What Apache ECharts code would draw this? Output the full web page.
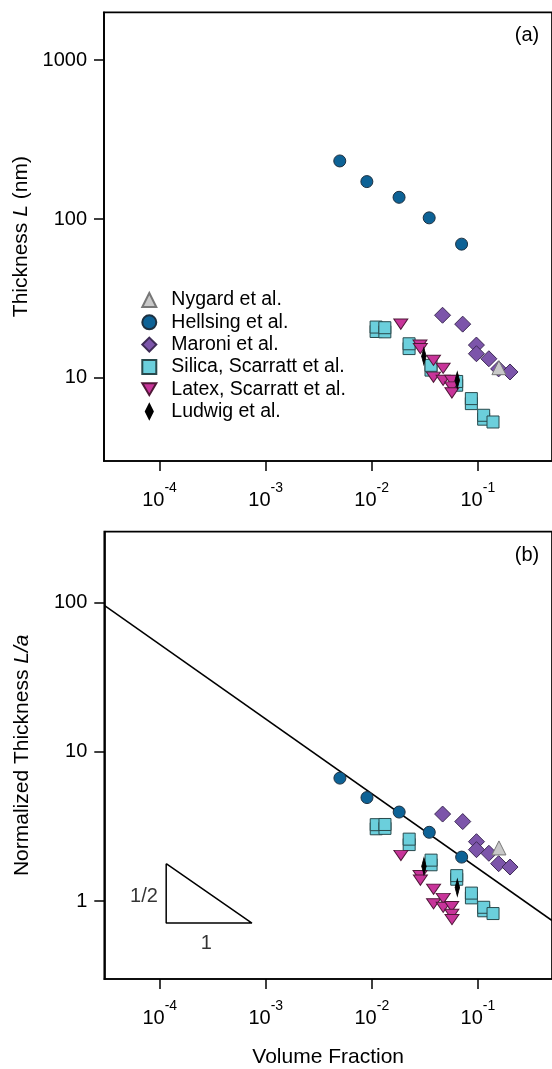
<!DOCTYPE html>
<html><head><meta charset="utf-8">
<script src="https://cdn.jsdelivr.net/npm/echarts@6/dist/echarts.min.js"></script>
<style>html,body{margin:0;padding:0;background:#fff}#c{width:552px;height:1069px}</style>
</head><body><div id="c"></div>
<script>
// ---- tick values ----
const xTicks = [1e-4, 1e-3, 1e-2, 1e-1];
const yTicksA = [10, 100, 1000];
const yTicksB = [1, 10, 100];
const legendNames = ['Nygard et al.', 'Hellsing et al.', 'Maroni et al.', 'Silica, Scarratt et al.', 'Latex, Scarratt et al.', 'Ludwig et al.'];

// ---- data: volume fraction (phi), thickness L (nm), normalized thickness L/a ----
const nygardPhi = [0.158];
const nygardL   = [11.6];
const nygardLa  = [2.27];

const hellsingPhi = [0.0050, 0.0090, 0.0181, 0.0348, 0.0703];
const hellsingL   = [232, 172, 137, 101.7, 69.5];
const hellsingLa  = [6.67, 4.94, 3.95, 2.89, 1.97];

const maroniPhi = [0.0465, 0.072, 0.097, 0.097, 0.127, 0.157, 0.201];
const maroniL   = [24.8, 21.8, 16.1, 14.2, 13.2, 11.4, 10.9];
const maroniLa  = [3.83, 3.41, 2.50, 2.21, 2.09, 1.78, 1.69];

const silicaPhi = [0.0110, 0.0110, 0.0133, 0.0133, 0.0225, 0.0225, 0.0362, 0.0362, 0.0632, 0.0632, 0.0869, 0.0869, 0.1135, 0.1135, 0.139];
const silicaL   = [19.6, 20.9, 19.5, 20.7, 15.3, 16.4, 11.2, 12.0, 9.0, 9.5, 6.89, 7.41, 5.5, 5.82, 5.28];
const silicaLa  = [3.05, 3.25, 3.07, 3.26, 2.39, 2.60, 1.75, 1.88, 1.40, 1.48, 1.05, 1.13, 0.86, 0.908, 0.824];

const latexPhi = [0.0188, 0.0285, 0.0287, 0.0382, 0.0382, 0.0471, 0.0471, 0.0566, 0.0568, 0.057];
const latexL   = [21.8, 16.1, 15.3, 12.9, 10.1, 11.5, 9.66, 9.66, 8.77, 8.05];
const latexLa  = [2.02, 1.48, 1.38, 1.20, 0.958, 1.04, 0.908, 0.917, 0.815, 0.751];

const ludwigPhi = [0.031, 0.064];
const ludwigL   = [13.7, 9.66];
const ludwigLa  = [1.71, 1.23];

// fitted line L/a ~ phi^(-1/2) (end points)
const fitPhi = [3e-5, 0.5];
const fitLa  = [96, 0.74];

// slope triangle annotation
const triPhi = [1.15e-4, 1.15e-4, 7.4e-4, 1.15e-4];
const triLa  = [1.78, 0.711, 0.711, 1.78];
const triLabelText = ['1/2', '1'];
const triLabelPhi  = [7.1e-5, 2.75e-4];
const triLabelLa   = [1.08, 0.52];

const FONT = '"Liberation Sans", Arial, sans-serif';
const pairs = (xs, ys) => xs.map((x, i) => [x, ys[i]]);

const chart = echarts.init(document.getElementById('c'), null, {renderer: 'canvas'});

function xAxis(gi, name) {
  return {
    type: 'log', logBase: 10, gridIndex: gi, min: 3e-5, max: 0.5,
    name: name || '', nameLocation: 'middle', nameGap: 68,
    nameTextStyle: {fontSize: 21, fontFamily: FONT, color: '#000'},
    axisLine: {show: true, onZero: false, lineStyle: {color: '#000', width: 1.7}},
    axisTick: {show: true, inside: false, length: 10, customValues: xTicks, lineStyle: {color: '#000', width: 1.5}},
    minorTick: {show: false},
    splitLine: {show: false},
    axisLabel: {
      show: true, margin: 24.5, customValues: xTicks,
      formatter: v => '{b|10}{s|' + Math.round(Math.log10(v)) + '}',
      rich: {
        b: {fontSize: 20, fontFamily: FONT, color: '#000', lineHeight: 20, padding: [9, 0, 0, 0]},
        s: {fontSize: 14, fontFamily: FONT, color: '#000', lineHeight: 14, padding: [0, 0, 15, 0]}
      }
    }
  };
}
function yAxis(gi, min, max, ticks, name) {
  return {
    type: 'log', logBase: 10, gridIndex: gi, min: min, max: max,
    name: name, nameLocation: 'middle', nameGap: 72,
    nameTextStyle: {
      fontSize: 21, fontFamily: FONT, color: '#000',
      rich: {
        n: {fontSize: 21, fontFamily: FONT, color: '#000'},
        i: {fontSize: 21, fontFamily: FONT, color: '#000', fontStyle: 'italic'}
      }
    },
    axisLine: {show: true, onZero: false, lineStyle: {color: '#000', width: 1.7}},
    axisTick: {show: true, inside: false, length: 10, customValues: ticks, lineStyle: {color: '#000', width: 1.5}},
    minorTick: {show: false},
    splitLine: {show: false},
    axisLabel: {
      show: true, margin: 17, customValues: ticks, fontSize: 20, fontFamily: FONT, color: '#000',
      formatter: v => String(Math.round(v))
    }
  };
}

const styles = {
  'Nygard et al.':            {symbol: 'triangle', size: 14, color: '#c9c9c9', border: '#777'},
  'Hellsing et al.':          {symbol: 'circle', size: 12, color: '#0d6296', border: '#1d3040'},
  'Maroni et al.':            {symbol: 'diamond', size: 16, color: '#7c55aa', border: '#3d2a55'},
  'Silica, Scarratt et al.':  {symbol: 'rect', size: 12, color: '#6bcfdc', border: '#28494c'},
  'Latex, Scarratt et al.':   {symbol: 'path://M0,0 L10,0 L5,8.5 Z', size: [14, 12], color: '#c8349a', border: '#501838'},
  'Ludwig et al.':            {symbol: 'path://M4,0 L8,8 L4,16 L0,8 Z', size: [9, 17], color: '#000', border: '#000'}
};
const sets = {
  'Maroni et al.': [maroniPhi, maroniL, maroniLa],
  'Hellsing et al.': [hellsingPhi, hellsingL, hellsingLa],
  'Silica, Scarratt et al.': [silicaPhi, silicaL, silicaLa],
  'Latex, Scarratt et al.': [latexPhi, latexL, latexLa],
  'Ludwig et al.': [ludwigPhi, ludwigL, ludwigLa],
  'Nygard et al.': [nygardPhi, nygardL, nygardLa]
};

const series = [
  {type: 'line', name: 'fit', xAxisIndex: 1, yAxisIndex: 1, data: pairs(fitPhi, fitLa), symbol: 'none',
   lineStyle: {color: '#000', width: 1.5}, silent: true, z: 1},
  {type: 'line', name: 'slope', xAxisIndex: 1, yAxisIndex: 1, data: pairs(triPhi, triLa), symbol: 'none',
   lineStyle: {color: '#000', width: 1.5}, silent: true, z: 1},
  {type: 'scatter', name: 'slopeLabels', xAxisIndex: 1, yAxisIndex: 1, symbolSize: 0, silent: true,
   data: triLabelText.map((t, i) => ({name: t, value: [triLabelPhi[i], triLabelLa[i]]})),
   label: {show: true, position: 'inside', formatter: '{b}', fontSize: 20, fontFamily: FONT, color: '#000'}}
];
Object.keys(sets).forEach(name => {
  const st = styles[name];
  const [phi, L, La] = sets[name];
  [0, 1].forEach(p => {
    series.push({
      type: 'scatter', name: name, xAxisIndex: p, yAxisIndex: p,
      symbol: st.symbol, symbolSize: st.size, symbolKeepAspect: true,
      itemStyle: {color: st.color, borderColor: st.border, borderWidth: 1, opacity: 1},
      data: pairs(phi, p === 0 ? L : La), z: 3
    });
  });
});

chart.setOption({
  animation: false,
  backgroundColor: '#fff',
  grid: [
    {left: 104, top: 12.3, width: 474.6, height: 448.7, show: true, borderColor: '#000', borderWidth: 1.7, containLabel: false},
    {left: 104.3, top: 531.6, width: 450.5, height: 449.9, show: true, borderColor: '#000', borderWidth: 1.7, containLabel: false}
  ],
  xAxis: [xAxis(0), xAxis(1, 'Volume Fraction')],
  yAxis: [
    yAxis(0, 3, 2000, yTicksA, '{n|Thickness }{i|L}{n| (nm)}'),
    yAxis(1, 0.3, 300, yTicksB, '{n|Normalized Thickness }{i|L/a}')
  ],
  legend: {
    data: legendNames, orient: 'vertical', left: 141.3, top: 290, padding: 0,
    itemWidth: 14, itemHeight: 14, itemGap: 2.3, selectedMode: false, symbolKeepAspect: true,
    textStyle: {fontSize: 19.5, fontFamily: FONT, color: '#000', lineHeight: 20, padding: [0, 0, 0, 10]}
  },
  graphic: [
    {type: 'text', x: 527, y: 35, style: {text: '(a)', fontSize: 20, fontFamily: FONT, fill: '#000', align: 'center', verticalAlign: 'middle'}},
    {type: 'text', x: 527, y: 555, style: {text: '(b)', fontSize: 20, fontFamily: FONT, fill: '#000', align: 'center', verticalAlign: 'middle'}}
  ],
  series: series
});
</script></body></html>
